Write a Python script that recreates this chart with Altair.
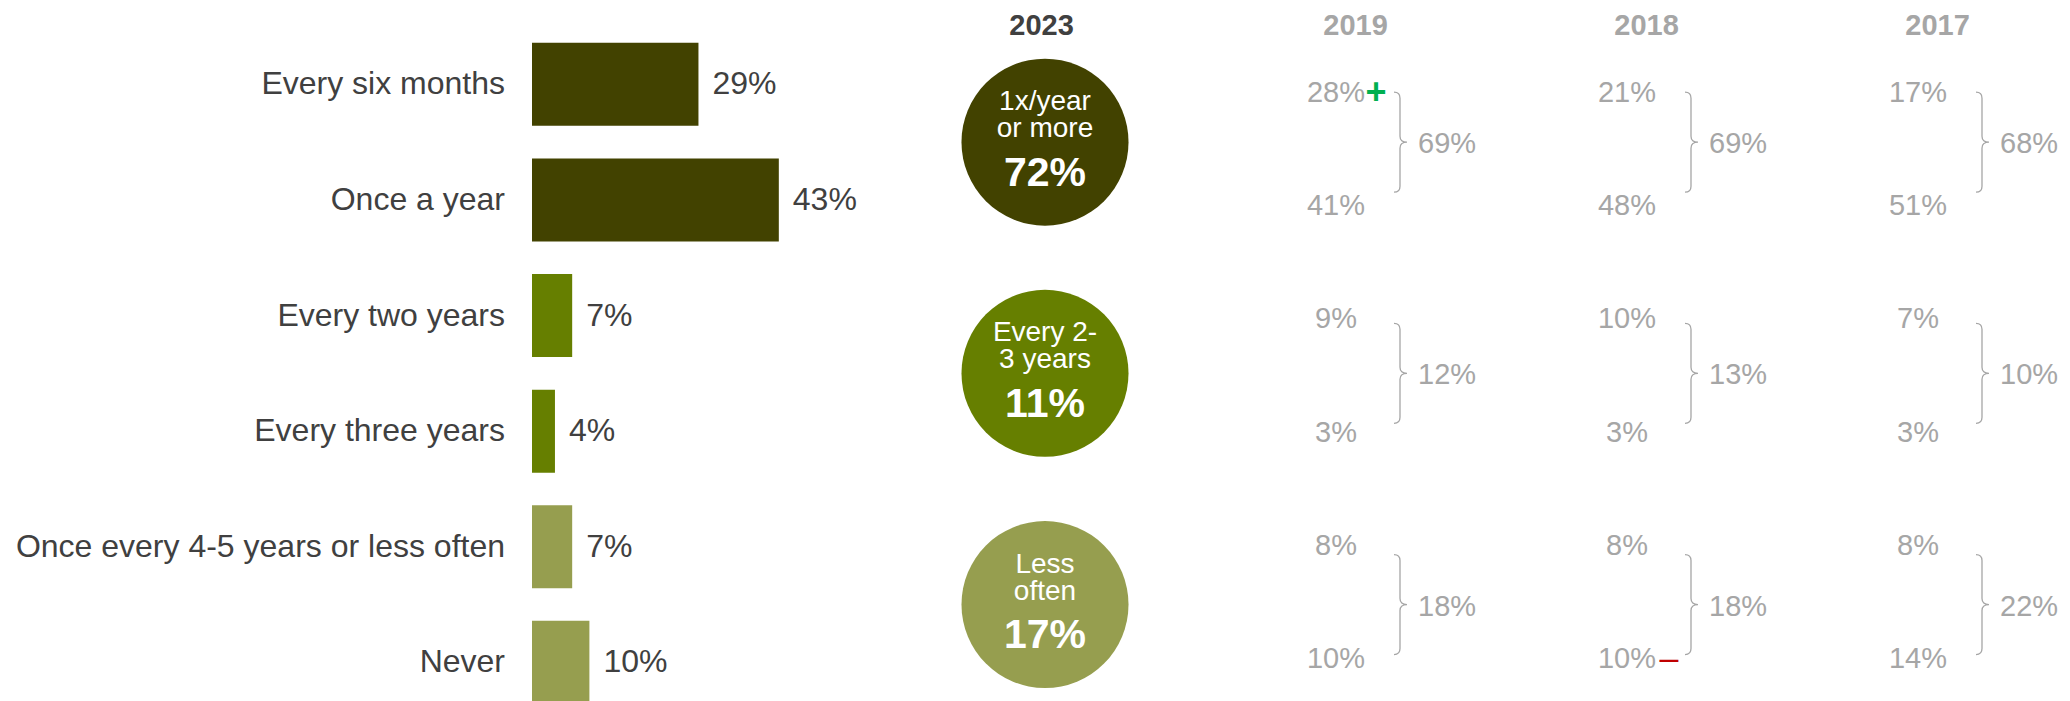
import altair as alt
import pandas as pd

# ---------------- data ----------------
categories = ["Every six months", "Once a year", "Every two years",
              "Every three years", "Once every 4-5 years or less often", "Never"]
values_2023 = [29, 43, 7, 4, 7, 10]
category_groups = ["1x/year or more", "1x/year or more", "Every 2-3 years",
                   "Every 2-3 years", "Less often", "Less often"]

groups = ["1x/year or more", "Every 2-3 years", "Less often"]
group_circle_labels = ["1x/year\nor more", "Every 2-\n3 years", "Less\noften"]
totals_2023 = [72, 11, 17]

years = ["2023", "2019", "2018", "2017"]
values_2019 = [28, 41, 9, 3, 8, 10]
values_2018 = [21, 48, 10, 3, 8, 10]
values_2017 = [17, 51, 7, 3, 8, 14]
totals_2019 = [69, 12, 18]
totals_2018 = [69, 13, 18]
totals_2017 = [68, 10, 22]

sig_years = ["2019", "2018"]
sig_categories = ["Every six months", "Never"]
sig_signs = ["+", "\u2013"]

# ---------------- tables ----------------
row_of = {c: i for i, c in enumerate(categories)}

bars_df = pd.DataFrame({
    "category": categories,
    "value": values_2023,
    "group": category_groups,
    "row": [row_of[c] for c in categories],
})
bars_df["label"] = bars_df["value"].astype(str) + "%"

centers = bars_df.groupby("group")["row"].mean()
groups_df = pd.DataFrame({
    "group": groups,
    "circle_label": group_circle_labels,
    "total": totals_2023,
    "year": "2023",
})
groups_df["center"] = groups_df["group"].map(centers)
groups_df["total_label"] = groups_df["total"].astype(str) + "%"

hist_values = {"2019": values_2019, "2018": values_2018, "2017": values_2017}
hist_totals = {"2019": totals_2019, "2018": totals_2018, "2017": totals_2017}

hist_df = pd.DataFrame([
    {"year": y, "category": c, "row": row_of[c], "value": v, "label": f"{v}%"}
    for y, vals in hist_values.items() for c, v in zip(categories, vals)
])
hist_tot_df = pd.DataFrame([
    {"year": y, "group": g, "center": centers[g], "total": t, "label": f"{t}%"}
    for y, tots in hist_totals.items() for g, t in zip(groups, tots)
])
sig_df = pd.DataFrame({
    "year": sig_years,
    "category": sig_categories,
    "sign": sig_signs,
})
sig_df["row"] = sig_df["category"].map(row_of)

# ---------------- styles / scales ----------------
FONT = "Liberation Sans"
DARK = "#404040"
GREY = "#A6A6A6"
GROUP_COLORS = ["#424200", "#667F00", "#969E4F"]

bar_x = alt.Scale(domain=[0, 100], range=[524, 1098], nice=False, zero=True, padding=0)
row_y = alt.Scale(domain=[0, 5], range=[76.35, 654.35], nice=False, zero=False, padding=0)
hist_y = alt.Scale(domain=[0, 5], range=[84.7, 651.2], nice=False, zero=False, padding=0)
year_x = alt.Scale(type="point", domain=years, range=[1037, 1910], padding=0)
group_color = alt.Scale(domain=groups, range=GROUP_COLORS)

BRACE = ("M1.16,-1 Q1.28,-1 1.28,-0.88 L1.28,-0.12 Q1.28,0 1.42,0 "
         "Q1.28,0 1.28,0.12 L1.28,0.88 Q1.28,1 1.16,1")

header_axis = alt.Axis(
    orient="top", domain=False, ticks=False, grid=False, title=None,
    labelAngle=0, labelFontSize=29, labelFontWeight="bold",
    labelBaseline="alphabetic", labelPadding=-26.5,
    labelColor={"condition": {"test": "datum.value == '2023'", "value": DARK},
                "value": GREY},
    labelOffset={"condition": {"test": "datum.value == '2023'", "value": -4},
                 "value": 19},
)

# ---------------- layers ----------------
bars = alt.Chart(bars_df).mark_bar(orient="horizontal", size=83).encode(
    x=alt.X("value:Q", scale=bar_x, axis=None),
    y=alt.Y("row:Q", scale=row_y, axis=None),
    color=alt.Color("group:N", scale=group_color, legend=None),
)

cat_labels = alt.Chart(bars_df).mark_text(
    align="right", baseline="middle", dx=-27, fontSize=32, color=DARK
).encode(
    x=alt.XDatum(0, type="quantitative", scale=bar_x, axis=None),
    y=alt.Y("row:Q", scale=row_y, axis=None),
    text="category:N",
)

val_labels = alt.Chart(bars_df).mark_text(
    align="left", baseline="middle", dx=14, fontSize=32, color=DARK
).encode(
    x=alt.X("value:Q", scale=bar_x, axis=None),
    y=alt.Y("row:Q", scale=row_y, axis=None),
    text="label:N",
)

circles = alt.Chart(groups_df).mark_circle(size=27900, opacity=1).encode(
    x=alt.X("year:N", scale=year_x, axis=header_axis),
    y=alt.Y("center:Q", scale=row_y, axis=None),
    color=alt.Color("group:N", scale=group_color, legend=None),
)

circle_text = alt.Chart(groups_df).mark_text(
    align="center", baseline="alphabetic", dy=-32, fontSize=28,
    lineHeight=27, lineBreak="\n", color="white"
).encode(
    x=alt.X("year:N", scale=year_x, axis=None),
    y=alt.Y("center:Q", scale=row_y, axis=None),
    text="circle_label:N",
)

circle_total = alt.Chart(groups_df).mark_text(
    align="center", baseline="alphabetic", dy=43.7, fontSize=41,
    fontWeight="bold", color="white"
).encode(
    x=alt.X("year:N", scale=year_x, axis=None),
    y=alt.Y("center:Q", scale=row_y, axis=None),
    text="total_label:N",
)

hist_text = alt.Chart(hist_df).mark_text(
    align="center", baseline="middle", fontSize=29, color=GREY
).encode(
    x=alt.X("year:N", scale=year_x, axis=None),
    y=alt.Y("row:Q", scale=hist_y, axis=None),
    text="label:N",
)

braces = alt.Chart(hist_tot_df).mark_point(
    shape=BRACE, size=10000, filled=False, color=GREY, strokeWidth=1.3, opacity=1
).encode(
    x=alt.X("year:N", scale=year_x, axis=None),
    y=alt.Y("center:Q", scale=row_y, axis=None),
)

hist_totals_text = alt.Chart(hist_tot_df).mark_text(
    align="left", baseline="middle", dx=82, dy=2, fontSize=29, color=GREY
).encode(
    x=alt.X("year:N", scale=year_x, axis=None),
    y=alt.Y("center:Q", scale=row_y, axis=None),
    text="label:N",
)

plus = alt.Chart(sig_df).transform_filter(alt.datum.sign == "+").mark_text(
    align="center", baseline="middle", dx=40, fontSize=36,
    fontWeight="bold", color="#00B050"
).encode(
    x=alt.X("year:N", scale=year_x, axis=None),
    y=alt.Y("row:Q", scale=hist_y, axis=None),
    text="sign:N",
)

minus = alt.Chart(sig_df).transform_filter(alt.datum.sign != "+").mark_text(
    align="center", baseline="middle", dx=42, fontSize=34, color="#C00000"
).encode(
    x=alt.X("year:N", scale=year_x, axis=None),
    y=alt.Y("row:Q", scale=hist_y, axis=None),
    text="sign:N",
)

chart = alt.layer(
    bars, cat_labels, val_labels, circles, circle_text, circle_total,
    hist_text, braces, hist_totals_text, plus, minus
).resolve_scale(
    x="independent", y="independent"
).properties(
    width=2054, height=693, padding=0,
    autosize=alt.AutoSizeParams(type="none"),
).configure(
    font=FONT, background="white"
).configure_view(stroke=None)

chart.save("out.html", embed_options={"renderer": "svg", "actions": False})
